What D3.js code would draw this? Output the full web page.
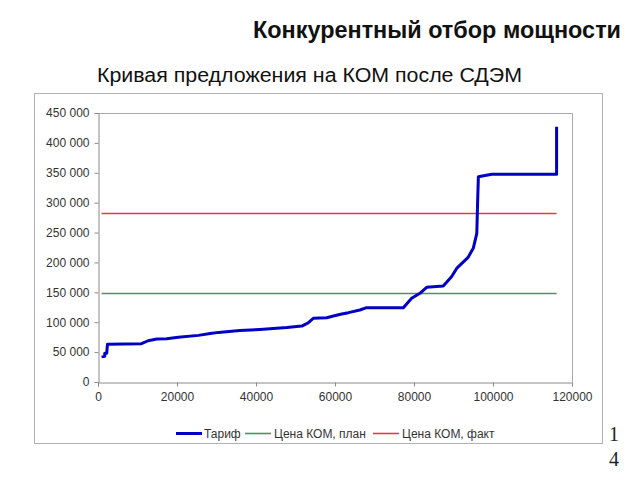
<!DOCTYPE html>
<html><head><meta charset="utf-8">
<script src="https://cdn.jsdelivr.net/npm/d3@7"></script>
<style>body{margin:0;background:#fff}svg{display:block}</style>
</head><body>
<script>
// Supply curve: cumulative capacity (MW) vs tariff
const capacity = [900, 1700, 1700, 2200, 2400, 11000, 12700, 14900, 17400, 20300, 25400, 28400, 30500, 35900, 41000, 47800, 51600, 53200, 54500, 57900, 59600, 61700, 63400, 66300, 68000, 77300, 79400, 81500, 83200, 87400, 89500, 90800, 92500, 93700, 95000, 95900, 96100, 96300, 99700, 116100, 116100];
const tariff   = [42000, 43000, 48000, 48000, 63000, 64000, 69000, 72000, 72500, 74700, 78000, 81000, 83000, 86000, 88000, 91000, 93500, 99000, 106500, 107600, 110400, 113800, 116000, 120400, 124300, 124300, 140000, 148400, 158400, 160600, 176000, 190000, 201000, 208600, 223600, 248700, 300000, 343400, 347500, 347500, 427000];
const komRange = [900, 116100];
const komPlan = 148000;
const komFact = 282000;
const yTicks = [0, 50000, 100000, 150000, 200000, 250000, 300000, 350000, 400000, 450000];
const xTicks = [0, 20000, 40000, 60000, 80000, 100000, 120000];
const seriesNames = ["Тариф", "Цена КОМ, план", "Цена КОМ, факт"];
const seriesColors = ["#0000c4", "#3a9a6a", "#d94040"];

const svg = d3.select("body").append("svg").attr("width", 640).attr("height", 480);

svg.append("text").attr("x", 621).attr("y", 38).attr("text-anchor", "end")
  .attr("font-family", "'Liberation Sans Narrow','Arial Narrow','Liberation Sans',sans-serif")
  .attr("font-weight", "bold").attr("font-size", 24).attr("fill", "#111")
  .attr("textLength", 368).attr("lengthAdjust", "spacingAndGlyphs")
  .text("Конкурентный отбор мощности");

svg.append("text").attr("x", 97).attr("y", 82)
  .attr("font-family", "'Liberation Sans',Arial,sans-serif")
  .attr("font-size", 19.5).attr("fill", "#111")
  .attr("textLength", 425).attr("lengthAdjust", "spacingAndGlyphs")
  .text("Кривая предложения на КОМ после СДЭМ");

// chart frame
svg.append("rect").attr("x", 34.5).attr("y", 93.5).attr("width", 568).attr("height", 350)
  .attr("fill", "#fff").attr("stroke", "#b0b0b0").attr("stroke-width", 1);

const x = d3.scaleLinear().domain([0, 120000]).range([98, 572]);
const y = d3.scaleLinear().domain([0, 450000]).range([382, 113]);

// plot area border (top/right)
svg.append("path").attr("d", `M${x(0)},${y(450000)+0.5}H${x(120000)+0.5}V${y(0)}`)
  .attr("fill", "none").attr("stroke", "#a8a8a8");

const yAxis = svg.append("g").attr("transform", `translate(${x(0)+0.5},0)`)
  .call(d3.axisLeft(y).tickValues(yTicks).tickSize(4).tickPadding(5)
    .tickFormat(d => d3.format(",")(d).replace(/,/g, " ")));
const xAxis = svg.append("g").attr("transform", `translate(0,${y(0)+0.5})`)
  .call(d3.axisBottom(x).tickValues(xTicks).tickSize(4).tickPadding(6).tickFormat(d => String(d)));
[yAxis, xAxis].forEach(g => {
  g.selectAll("path,line").attr("stroke", "#8a8a8a");
  g.selectAll("text").attr("font-family", "'Liberation Sans',Arial,sans-serif")
    .attr("font-size", 12).attr("fill", "#333");
});

const kom = komRange.map(v => ({x: v}));
svg.append("path").datum(kom)
  .attr("d", d3.line().x(d => x(d.x)).y(() => y(komPlan)))
  .attr("fill", "none").attr("stroke", seriesColors[1]).attr("stroke-width", 1.6);
svg.append("path").datum(kom)
  .attr("d", d3.line().x(d => x(d.x)).y(() => y(komFact)))
  .attr("fill", "none").attr("stroke", seriesColors[2]).attr("stroke-width", 1.6);

const pts = capacity.map((c, i) => [c, tariff[i]]);
svg.append("path").datum(pts)
  .attr("d", d3.line().x(d => x(d[0])).y(d => y(d[1])))
  .attr("fill", "none").attr("stroke", seriesColors[0]).attr("stroke-width", 3)
  .attr("stroke-linejoin", "round");

// legend
const legendPos = [[176, 204], [245, 274], [373, 402]];
seriesNames.forEach((n, i) => {
  const [lx, tx] = legendPos[i];
  svg.append("line").attr("x1", lx).attr("x2", lx + 26).attr("y1", 433.5).attr("y2", 433.5)
    .attr("stroke", seriesColors[i]).attr("stroke-width", i === 0 ? 3 : 1.6);
  svg.append("text").attr("x", tx).attr("y", 437.5)
    .attr("font-family", "'Liberation Sans',Arial,sans-serif").attr("font-size", 12).attr("fill", "#333")
    .text(n);
});

// page number
svg.append("text").attr("x", 609).attr("y", 441).attr("font-family", "'Liberation Serif','Times New Roman',serif")
  .attr("font-size", 20).attr("fill", "#222").text("1");
svg.append("text").attr("x", 609).attr("y", 466).attr("font-family", "'Liberation Serif','Times New Roman',serif")
  .attr("font-size", 20).attr("fill", "#222").text("4");
</script>
</body></html>
